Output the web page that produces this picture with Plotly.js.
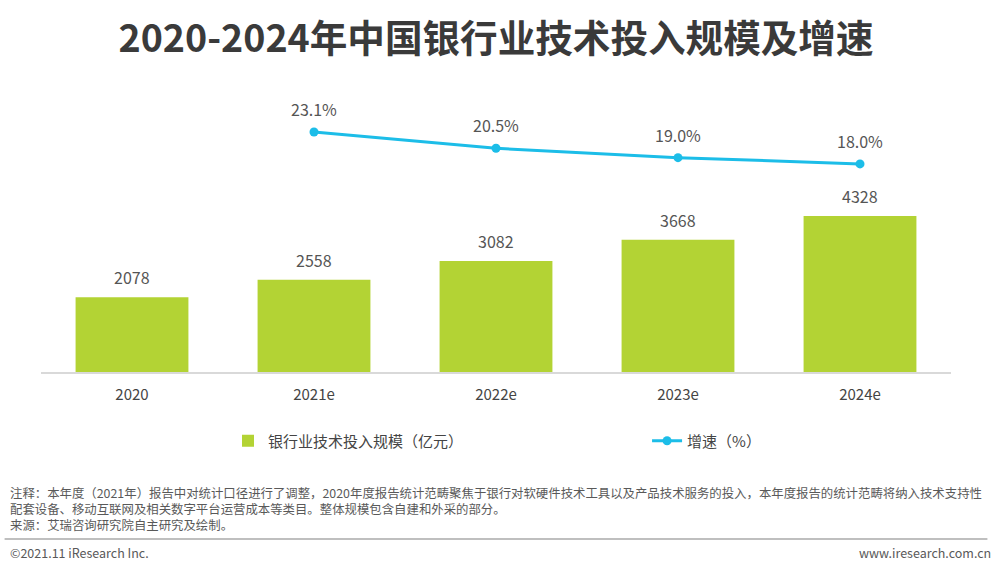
<!DOCTYPE html>
<html>
<head>
<meta charset="utf-8">
<script src="https://cdn.plot.ly/plotly-3.0.1.min.js"></script>
<style>html,body{margin:0;padding:0;background:#fff;}#chart{width:1000px;height:571px;}</style>
</head>
<body>
<div id="chart"></div>
<script>
const categories = ['2020', '2021e', '2022e', '2023e', '2024e'];
const scaleValues = [2078, 2558, 3082, 3668, 4328];
const growthCategories = ['2021e', '2022e', '2023e', '2024e'];
const growthValues = [23.1, 20.5, 19.0, 18.0];
const barName = '银行业技术投入规模（亿元）';
const lineName = '增速（%）';
const titleText = '2020-2024年中国银行业技术投入规模及增速';
const noteLines = [
  '注释：本年度（2021年）报告中对统计口径进行了调整，2020年度报告统计范畴聚焦于银行对软硬件技术工具以及产品技术服务的投入，本年度报告的统计范畴将纳入技术支持性',
  '配套设备、移动互联网及相关数字平台运营成本等类目。整体规模包含自建和外采的部分。',
  '来源：艾瑞咨询研究院自主研究及绘制。'
];
const footerLeft = '©2021.11 iResearch Inc.';
const footerRight = 'www.iresearch.com.cn';

const FONT = '"Noto Sans CJK SC", "Noto Sans", sans-serif';
const green = '#b3d334';
const cyan = '#1cbde8';
const labelColor = '#555555';

const traces = [
  {
    type: 'bar', name: barName, x: categories, y: scaleValues,
    marker: {color: green}, width: 0.62, legend: 'legend',
    hoverinfo: 'x+y'
  },
  {
    type: 'scatter', mode: 'lines+markers', name: lineName, legend: 'legend2',
    x: growthCategories, y: growthValues, yaxis: 'y2',
    line: {color: cyan, width: 3}, marker: {color: cyan, size: 9}, cliponaxis: false
  }
];

const annotations = [];
categories.forEach((c, i) => {
  annotations.push({xref: 'x', yref: 'y', x: categories.indexOf(c), y: scaleValues[i], yanchor: 'middle', yshift: 20,
    text: String(scaleValues[i]), showarrow: false, font: {family: FONT, size: 16, color: labelColor}});
});
growthCategories.forEach((c, i) => {
  annotations.push({xref: 'x', yref: 'y2', x: categories.indexOf(c), y: growthValues[i], yanchor: 'middle', yshift: 23,
    text: growthValues[i].toFixed(1) + '%', showarrow: false, font: {family: FONT, size: 16, color: labelColor}});
});
annotations.push({xref: 'paper', yref: 'paper', x: -0.036, y: 0, xanchor: 'left', yanchor: 'middle', align: 'left',
  yshift: -(509 - 372), text: noteLines.join('<br>'), showarrow: false,
  font: {family: FONT, size: 12.4, color: '#595959'}});
annotations.push({xref: 'paper', yref: 'paper', x: -0.036, y: 0, xanchor: 'left', yanchor: 'middle',
  yshift: -(552 - 372), text: footerLeft, showarrow: false, font: {family: FONT, size: 12.5, color: '#595959'}});
annotations.push({xref: 'paper', yref: 'paper', x: 1.046, y: 0, xanchor: 'right', yanchor: 'middle',
  yshift: -(552 - 372), text: footerRight, showarrow: false, font: {family: FONT, size: 12.5, color: '#595959'}});

const plotH = 571 - 100 - 199;
const legY = -(441 - 372) / plotH;
const layout = {
  width: 1000, height: 571,
  margin: {l: 41, r: 49, t: 100, b: 199},
  paper_bgcolor: '#fff', plot_bgcolor: '#fff',
  title: {text: '<b>' + titleText + '</b>', x: 0.5, xref: 'paper', xanchor: 'center', y: 0.932, yanchor: 'middle',
    font: {family: FONT, size: 37.6, color: '#3a3a3a'}},
  xaxis: {type: 'category', categoryarray: categories, categoryorder: 'array', range: [-0.5, categories.length - 0.5],
    showline: true, linecolor: '#d9d9d9', linewidth: 1.5, ticks: 'outside', ticklen: 8, tickcolor: 'rgba(0,0,0,0)',
    showgrid: false, tickfont: {family: FONT, size: 15, color: '#444444'}},
  yaxis: {range: [0, 7550], visible: false, showgrid: false, zeroline: false},
  yaxis2: {range: [-15.2, 28.2], overlaying: 'y', visible: false, showgrid: false, zeroline: false},
  showlegend: true,
  legend: {orientation: 'h', x: 0.2055, xanchor: 'left', y: legY, yanchor: 'middle',
    font: {family: FONT, size: 15, color: '#444444'}, bgcolor: 'rgba(0,0,0,0)'},
  legend2: {orientation: 'h', x: 0.666, xanchor: 'left', y: legY, yanchor: 'middle',
    font: {family: FONT, size: 15, color: '#444444'}, bgcolor: 'rgba(0,0,0,0)'},
  shapes: [{type: 'line', xref: 'paper', yref: 'paper', x0: -0.04, x1: 1.04,
    y0: -(539 - 372) / plotH, y1: -(539 - 372) / plotH, line: {color: '#bfbfbf', width: 2}}],
  annotations: annotations
};

Plotly.newPlot('chart', traces, layout, {displayModeBar: false, staticPlot: true});
</script>
</body>
</html>
